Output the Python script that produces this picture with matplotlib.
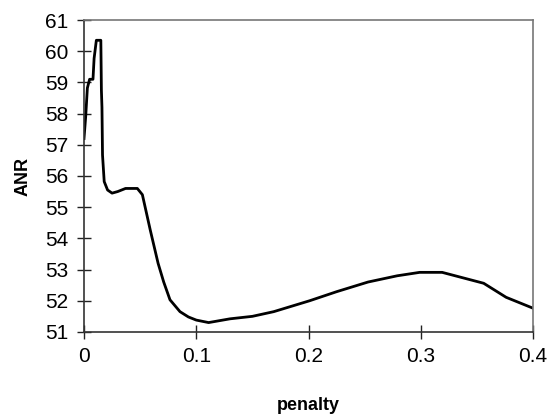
import numpy as np
import matplotlib
matplotlib.use("Agg")
import matplotlib.pyplot as plt

# values
penalty = [0.0, 0.0015, 0.003, 0.005, 0.008, 0.009, 0.011, 0.015, 0.0155,
           0.016, 0.0165, 0.018, 0.021, 0.025, 0.03, 0.037, 0.0475, 0.052,
           0.059, 0.066, 0.071, 0.0766, 0.0855, 0.093, 0.1, 0.111, 0.13,
           0.15, 0.169, 0.201, 0.225, 0.253, 0.279, 0.299, 0.319, 0.356,
           0.376, 0.4]
anr = [57.2, 57.9, 58.82, 59.1, 59.1, 59.77, 60.35, 60.35, 58.75,
       58.2, 56.67, 55.82, 55.55, 55.45, 55.5, 55.6, 55.6, 55.4,
       54.27, 53.2, 52.6, 52.03, 51.65, 51.48, 51.38, 51.3, 51.42,
       51.5, 51.65, 52.0, 52.29, 52.6, 52.8, 52.91, 52.91, 52.56,
       52.11, 51.76]

x_ticks = [0, 0.1, 0.2, 0.3, 0.4]
x_ticklabels = ["0", "0.1", "0.2", "0.3", "0.4"]
y_ticks = list(range(51, 62))

plt.rcParams['font.family'] = ['Liberation Sans', 'DejaVu Sans']

fig = plt.figure(figsize=(5.49, 4.17), dpi=100)
ax = fig.add_axes([0.153, 0.204, 0.818, 0.748])

ax.plot(penalty, anr, color='black', lw=2.0, solid_joinstyle='round')

ax.set_xlim(0, 0.4)
ax.set_ylim(51, 61)
ax.set_xticks(x_ticks)
ax.set_xticklabels(x_ticklabels)
ax.set_yticks(y_ticks)

ax.tick_params(direction='inout', length=10, width=1, labelsize=15,
               color='#222222', pad=6)

for side in ['left', 'bottom']:
    ax.spines[side].set_color('#333333')
    ax.spines[side].set_linewidth(1.2)
for side in ['top', 'right']:
    ax.spines[side].set_color('#777777')
    ax.spines[side].set_linewidth(1.2)

ax.set_xlabel("penalty", fontsize=13, fontweight='bold', labelpad=22)
ax.set_ylabel("ANR", fontsize=13, fontweight='bold', labelpad=10)

fig.savefig("out.png", dpi=100)
